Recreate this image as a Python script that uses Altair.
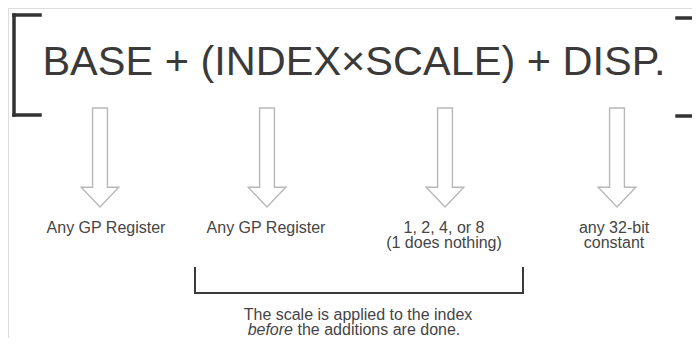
import altair as alt
import pandas as pd

# ---- text content ----
formula = ["BASE + (INDEX\u00d7SCALE) + DISP."]
arrow_labels_line1 = ["Any GP Register", "Any GP Register", "1, 2, 4, or 8", "any 32-bit"]
arrow_labels_line2 = ["", "", "(1 does nothing)", "constant"]
note_line1 = ["The scale is applied to the index"]
note_italic = ["before"]
note_rest = ["the additions are done."]

# ---- layout (image pixel coordinates) ----
formula_x = [354]
formula_y = [75]
arrow_x = [100, 267, 445, 617]
arrow_mid_y = [157.5, 157.5, 157.5, 157.5]
label_x = [106, 266, 444, 614]
label_y1 = [233, 233, 233, 233]
label_y2 = [248, 248, 248, 248]

# bracket segments: x1, y1, x2, y2
big_x1 = [14, 14, 14, 677, 677]
big_y1 = [15, 15, 115, 18, 116]
big_x2 = [14, 40, 40, 692, 692]
big_y2 = [115, 15, 115, 18, 116]

small_x1 = [195, 195, 523]
small_y1 = [268, 293, 268]
small_x2 = [195, 523, 523]
small_y2 = [293, 293, 293]

note_x = [358]
note_y1 = [320]
note_split_x = [293]
note_y2 = [334.5]

xs = alt.Scale(domain=[8, 692], nice=False, zero=False)
ys = alt.Scale(domain=[8, 338], nice=False, zero=False, reverse=True)


def X(f):
    return alt.X(f, type="quantitative", scale=xs, axis=None)


def Y(f):
    return alt.Y(f, type="quantitative", scale=ys, axis=None)


FONT = "Liberation Sans"
SMALL = 16
GREY_TEXT = "#454545"

formula_df = pd.DataFrame({"x": formula_x, "y": formula_y, "t": formula})
title = alt.Chart(formula_df).mark_text(
    font=FONT, fontSize=41.5, color="#3a3a3a", align="center", baseline="alphabetic"
).encode(x=X("x"), y=Y("y"), text="t:N")

big_df = pd.DataFrame({"x": big_x1, "y": big_y1, "x2": big_x2, "y2": big_y2})
big_br = alt.Chart(big_df).mark_rule(
    color="#333333", strokeWidth=3.5, strokeCap="square"
).encode(x=X("x"), y=Y("y"), x2="x2", y2="y2")

small_df = pd.DataFrame({"x": small_x1, "y": small_y1, "x2": small_x2, "y2": small_y2})
small_br = alt.Chart(small_df).mark_rule(
    color="#3a3a3a", strokeWidth=2, strokeCap="square"
).encode(x=X("x"), y=Y("y"), x2="x2", y2="y2")

arrow_path = "M -0.15 -1 L 0.15 -1 L 0.15 0.6 L 0.38 0.6 L 0 1 L -0.38 0.6 L -0.15 0.6 Z"
arrow_df = pd.DataFrame({"x": arrow_x, "y": arrow_mid_y})
arrows = alt.Chart(arrow_df).mark_point(
    shape=arrow_path, filled=False, stroke="#b8b8b8", strokeWidth=1.4, size=9801, opacity=1
).encode(x=X("x"), y=Y("y"))

lab1_df = pd.DataFrame({"x": label_x, "y": label_y1, "t": arrow_labels_line1})
lab1 = alt.Chart(lab1_df).mark_text(
    font=FONT, fontSize=SMALL, color=GREY_TEXT, align="center", baseline="alphabetic"
).encode(x=X("x"), y=Y("y"), text="t:N")

lab2_df = pd.DataFrame({"x": label_x, "y": label_y2, "t": arrow_labels_line2})
lab2 = alt.Chart(lab2_df).mark_text(
    font=FONT, fontSize=SMALL, color=GREY_TEXT, align="center", baseline="alphabetic"
).encode(x=X("x"), y=Y("y"), text="t:N")

n1_df = pd.DataFrame({"x": note_x, "y": note_y1, "t": note_line1})
n1 = alt.Chart(n1_df).mark_text(
    font=FONT, fontSize=SMALL, color=GREY_TEXT, align="center", baseline="alphabetic"
).encode(x=X("x"), y=Y("y"), text="t:N")

n2a_df = pd.DataFrame({"x": note_split_x, "y": note_y2, "t": note_italic})
n2a = alt.Chart(n2a_df).mark_text(
    font=FONT, fontSize=SMALL, fontStyle="italic", color=GREY_TEXT, align="right", baseline="alphabetic"
).encode(x=X("x"), y=Y("y"), text="t:N")

n2b_df = pd.DataFrame({"x": note_split_x, "y": note_y2, "t": note_rest})
n2b = alt.Chart(n2b_df).mark_text(
    font=FONT, fontSize=SMALL, color=GREY_TEXT, align="left", baseline="alphabetic", dx=4.5
).encode(x=X("x"), y=Y("y"), text="t:N")

chart = alt.layer(
    arrows, big_br, small_br, title, lab1, lab2, n1, n2a, n2b
).properties(
    width=684, height=330, padding=0, autosize=alt.AutoSizeParams(type="none")
).configure_view(strokeWidth=0, stroke="white", fill="white").configure(background="white")

chart.save("out.html", embed_options={"renderer": "svg", "actions": False})
